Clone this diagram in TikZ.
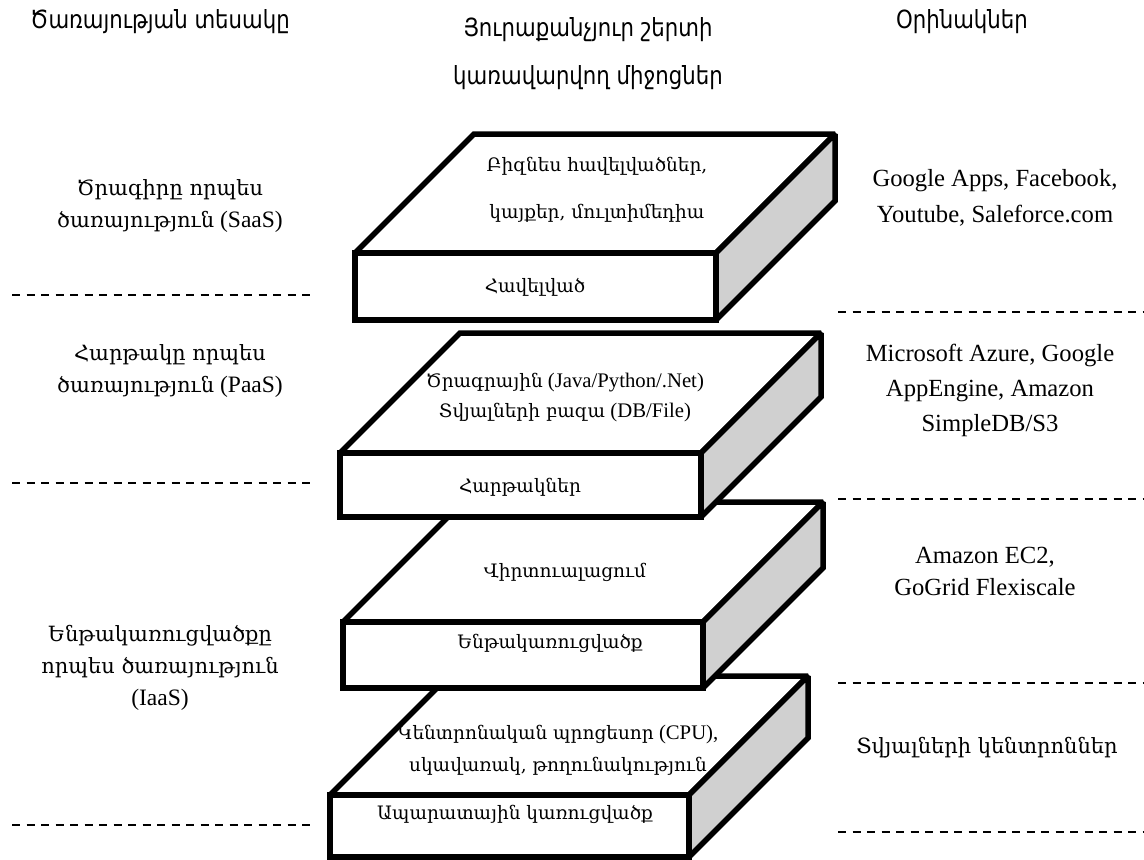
\documentclass[tikz,border=0pt]{standalone}
\usepackage{fontspec}
\setmainfont{Liberation Serif}[Scale=1.12]
\newfontfamily\armfont{DejaVu Serif}
\newfontfamily\headfont{DejaVu Sans}[FakeStretch=0.85]
\newcommand\hy[1]{{\armfont #1}}
\definecolor{sideface}{HTML}{D0D0D0}

% one layer of the stack: name, front-left x, front-top y, width, height, depth
\newcommand\layerbox[6]{%
  \coordinate (#1-fl) at (#2,#3);
  \coordinate (#1-fr) at (#2+#4,#3);
  \filldraw[slab,fill=white] (#1-fl) -- ++(#6,-#6) -- ++(#4,0) -- (#1-fr) -- cycle;
  \filldraw[slab,fill=sideface] (#1-fr) -- ++(#6,-#6) -- ++(0,#5) -- ++(-#6,#6) -- cycle;
  \filldraw[slab,fill=white] (#1-fl) rectangle ++(#4,#5);
}

\begin{document}
\begin{tikzpicture}[x=1pt,y=-1pt,
  slab/.style={line width=5.5pt,line join=miter,miter limit=1.5},
  sep/.style={line width=1.8pt,dash pattern=on 8pt off 6.5pt},
  head/.style={font=\headfont\fontsize{25}{48}\selectfont,align=center,inner sep=0pt},
  txt/.style={font=\fontsize{21}{32}\selectfont,align=center,inner sep=0pt},
  boxtxt/.style={txt,font=\fontsize{18.5}{30}\selectfont},
]
\useasboundingbox (0,0) rectangle (1144,860);

% column headings
\node[head] (h1) at (160,22) {Ծառայության տեսակը};
\node[head] (h2) at (588,54) {Յուրաքանչյուր շերտի\\կառավարվող միջոցներ};
\node[head] (h3) at (962,22) {Օրինակներ};

% the four stacked layers, bottom first
\layerbox{hw}{330}{795}{359}{62}{119}
\layerbox{inf}{343}{622}{360}{66}{120}
\layerbox{plat}{340}{453}{361}{64}{120}
\layerbox{app}{355}{253}{361}{67}{119}

% texts on the layers
\node[boxtxt,font=\fontsize{18.5}{47}\selectfont] (appTop) at (597,190) {\hy{Բիզնես հավելվածներ,}\\\hy{կայքեր, մուլտիմեդիա}};
\node[boxtxt] (appFront) at (535,287) {\hy{Հավելված}};
\node[boxtxt] (platTop) at (565,398) {\hy{Ծրագրային} (Java/Python/.Net)\\\hy{Տվյալների բազա} (DB/File)};
\node[boxtxt] (platFront) at (520,487) {\hy{Հարթակներ}};
\node[boxtxt] (infTop) at (565,572) {\hy{Վիրտուալացում}};
\node[boxtxt] (infFront) at (550,643) {\hy{Ենթակառուցվածք}};
\node[boxtxt,font=\fontsize{18.5}{32}\selectfont] (hwTop) at (558,750) {\hy{Կենտրոնական պրոցեսոր} (CPU),\\\hy{սկավառակ, թողունակություն}};
\node[boxtxt] (hwFront) at (515,814) {\hy{Ապարատային կառուցվածք}};

% service types
\node[txt] (saas) at (170,206) {\hy{Ծրագիրը որպես}\\\hy{ծառայություն} (SaaS)};
\node[txt] (paas) at (170,371) {\hy{Հարթակը որպես}\\\hy{ծառայություն} (PaaS)};
\node[txt] (iaas) at (160,668) {\hy{Ենթակառուցվածքը}\\\hy{որպես ծառայություն}\\(IaaS)};

% examples
\node[txt,font=\fontsize{22}{36}\selectfont] (ex1) at (995,198) {Google Apps, Facebook,\\Youtube, Saleforce.com};
\node[txt,font=\fontsize{22}{35}\selectfont] (ex2) at (990,390) {Microsoft Azure, Google\\AppEngine, Amazon\\SimpleDB/S3};
\node[txt,font=\fontsize{22}{32}\selectfont] (ex3) at (985,571) {Amazon EC2,\\GoGrid Flexiscale};
\node[txt] (ex4) at (987,748) {\hy{Տվյալների կենտրոններ}};

% dashed separators
\draw[sep] (12,295) -- (313,295);
\draw[sep] (12,483) -- (313,483);
\draw[sep] (12,825) -- (313,825);
\draw[sep] (838,312) -- (1144,312);
\draw[sep] (838,499) -- (1144,499);
\draw[sep] (838,683) -- (1144,683);
\draw[sep] (838,832) -- (1144,832);
\end{tikzpicture}
\end{document}
